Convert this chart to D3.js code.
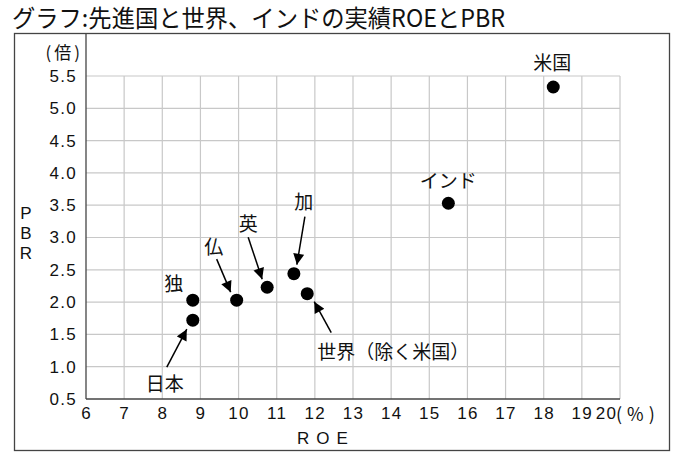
<!DOCTYPE html>
<html>
<head>
<meta charset="utf-8">
<script src="https://cdn.jsdelivr.net/npm/d3@7"></script>
<style>
body { margin: 0; background: #fff; }
svg { display: block; }
.jp { font-family: "Noto Sans CJK JP", sans-serif; fill: #111; }
.num { font-family: "Liberation Sans", Arial, sans-serif; fill: #111; }
</style>
</head>
<body>
<svg width="685" height="460"></svg>
<script>
// data
var names = ["日本", "独", "仏", "英", "加", "世界（除く米国）", "インド", "米国"];
var roe = [8.8, 8.8, 9.95, 10.75, 11.45, 11.8, 15.5, 18.25];
var pbr = [1.72, 2.03, 2.03, 2.23, 2.44, 2.13, 3.53, 5.33];
var xTicks = [6, 7, 8, 9, 10, 11, 12, 13, 14, 15, 16, 17, 18, 19, 20];
var yTicks = [0.5, 1.0, 1.5, 2.0, 2.5, 3.0, 3.5, 4.0, 4.5, 5.0, 5.5];

// label placement relative to each dot (px): text centre, arrow start, arrow end
var labelPos = [
    { dx: -28, dy: 64, arrow: [-26, 47, -6, 9] },
    { dx: -19, dy: -16 },
    { dx: -23, dy: -53, arrow: [-20, -41, -6, -8] },
    { dx: -19, dy: -63, arrow: [-19, -50, -5, -8] },
    { dx: 10, dy: -72, arrow: [11, -57, 3, -9] },
    { dx: 86, dy: 58, arrow: [24, 39, 7, 8] },
    { dx: 0, dy: -22 },
    { dx: -1, dy: -24 }
];

var svg = d3.select("svg");
var plotL = 86, plotR = 620, plotT = 76, plotB = 399;

var x = d3.scaleLinear().domain([6, 20]).range([plotL, plotR]);
var y = d3.scaleLinear().domain([0.5, 5.5]).range([plotB, plotT]);

svg.append("defs").append("marker")
    .attr("id", "arr")
    .attr("viewBox", "0 0 10 10")
    .attr("refX", 10).attr("refY", 5)
    .attr("markerUnits", "userSpaceOnUse")
    .attr("markerWidth", 13).attr("markerHeight", 11)
    .attr("orient", "auto")
    .append("path").attr("d", "M0,0 L10,5 L0,10 Z").attr("fill", "#000");

// title
svg.append("text").attr("class", "jp")
    .attr("x", 12).attr("y", 27)
    .attr("font-size", 24)
    .attr("textLength", 493).attr("lengthAdjust", "spacingAndGlyphs")
    .text("グラフ:先進国と世界、インドの実績ROEとPBR");

// outer frame
svg.append("rect")
    .attr("x", 14.5).attr("y", 33.5).attr("width", 655).attr("height", 417)
    .attr("fill", "none").attr("stroke", "#444").attr("stroke-width", 1.3);

// grid
var g = svg.append("g");
g.selectAll(".vg").data(xTicks.slice(1)).enter().append("line")
    .attr("x1", function (d) { return x(d); }).attr("x2", function (d) { return x(d); })
    .attr("y1", plotT).attr("y2", plotB)
    .attr("stroke", "#c8c8c8").attr("stroke-width", 1.2);
g.selectAll(".hg").data(yTicks.slice(1)).enter().append("line")
    .attr("x1", plotL).attr("x2", plotR)
    .attr("y1", function (d) { return y(d); }).attr("y2", function (d) { return y(d); })
    .attr("stroke", "#c8c8c8").attr("stroke-width", 1.2);

// axes
var xaxis = svg.append("g").attr("transform", "translate(0," + plotB + ")")
    .call(d3.axisBottom(x).tickValues(xTicks).tickSize(0).tickPadding(8).tickFormat(d3.format("d")));
var yaxis = svg.append("g").attr("transform", "translate(" + plotL + ",0)")
    .call(d3.axisLeft(y).tickValues(yTicks).tickSize(0).tickPadding(9).tickFormat(d3.format(".1f")));
xaxis.select(".domain").remove();
yaxis.select(".domain").remove();
[xaxis, yaxis].forEach(function (a) {
    a.selectAll("text").attr("class", "num")
        .attr("font-size", 17).attr("letter-spacing", 1.3).attr("fill", "#111");
});
xaxis.selectAll("text").filter(function (d) { return d == 20; }).attr("dx", -14);
svg.append("line").attr("x1", plotL).attr("x2", plotL).attr("y1", 33).attr("y2", plotB)
    .attr("stroke", "#444").attr("stroke-width", 1.3);
svg.append("line").attr("x1", plotL).attr("x2", plotR).attr("y1", plotB).attr("y2", plotB)
    .attr("stroke", "#444").attr("stroke-width", 1.3);

svg.append("text").attr("class", "jp").attr("x", x(20) - 4).attr("y", 421)
    .attr("font-size", 18).attr("letter-spacing", 5).text("(%)");
svg.append("text").attr("class", "num").attr("x", 326).attr("y", 444)
    .attr("text-anchor", "middle").attr("font-size", 17).attr("letter-spacing", 7)
    .text("ROE");
svg.append("text").attr("class", "jp").attr("x", 83).attr("y", 59)
    .attr("text-anchor", "end").attr("font-size", 17).attr("letter-spacing", 3)
    .text("(倍)");
svg.append("text").attr("class", "num").attr("x", 26).attr("font-size", 17)
    .attr("text-anchor", "middle")
    .selectAll("tspan").data(["P", "B", "R"]).enter().append("tspan")
    .attr("x", 26).attr("y", function (d, i) { return 219 + i * 20; })
    .text(function (d) { return d; });

// dots
var pts = names.map(function (n, i) { return { name: n, x: roe[i], y: pbr[i], lp: labelPos[i] }; });
svg.selectAll(".dot").data(pts).enter().append("circle")
    .attr("cx", function (d) { return x(d.x); })
    .attr("cy", function (d) { return y(d.y); })
    .attr("r", 6.5).attr("fill", "#000");

svg.selectAll(".arrow").data(pts.filter(function (d) { return d.lp.arrow; })).enter().append("line")
    .attr("x1", function (d) { return x(d.x) + d.lp.arrow[0]; })
    .attr("y1", function (d) { return y(d.y) + d.lp.arrow[1]; })
    .attr("x2", function (d) { return x(d.x) + d.lp.arrow[2]; })
    .attr("y2", function (d) { return y(d.y) + d.lp.arrow[3]; })
    .attr("stroke", "#000").attr("stroke-width", 1.5)
    .attr("marker-end", "url(#arr)");

svg.selectAll(".lbl").data(pts).enter().append("text")
    .attr("class", "jp")
    .attr("x", function (d) { return x(d.x) + d.lp.dx; })
    .attr("y", function (d) { return y(d.y) + d.lp.dy; })
    .attr("dy", "0.36em")
    .attr("text-anchor", "middle")
    .attr("font-size", 19)
    .text(function (d) { return d.name; });
</script>
</body>
</html>
